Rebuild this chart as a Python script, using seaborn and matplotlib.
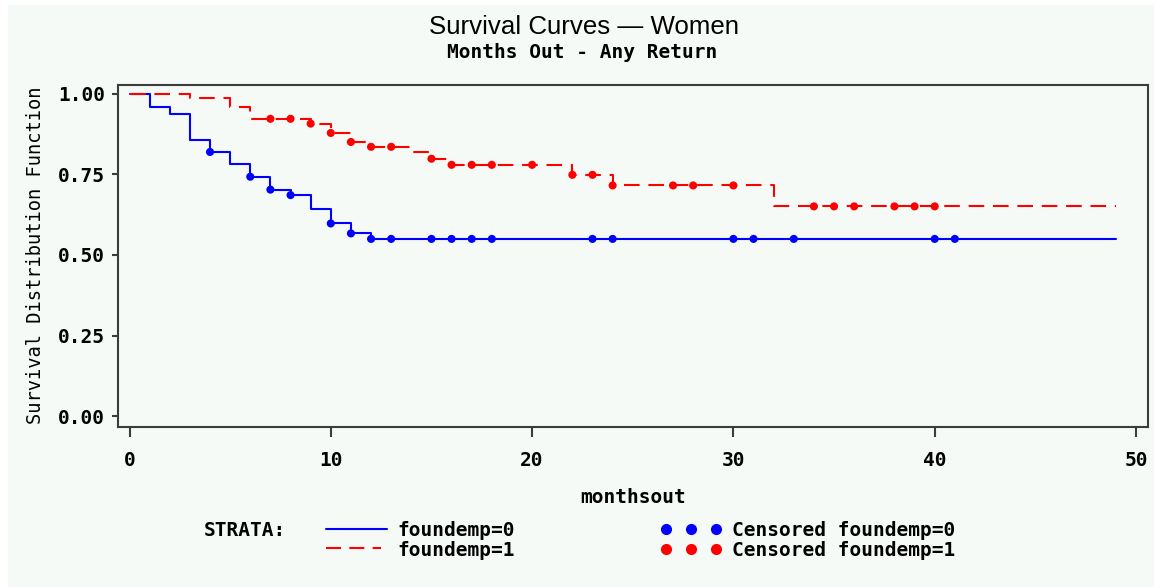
import matplotlib
matplotlib.use("Agg")
import matplotlib.pyplot as plt
import seaborn as sns
import pandas as pd
from matplotlib.lines import Line2D
from matplotlib.patches import Rectangle

# ---------------- data ----------------
strata_labels = ["foundemp=0", "foundemp=1"]
censor_labels = ["Censored foundemp=0", "Censored foundemp=1"]

months_0 = [0, 1, 2, 3, 4, 5, 6, 7, 8, 9, 10, 11, 12, 49]
surv_0 = [1.000, 0.960, 0.938, 0.856, 0.820, 0.783, 0.743, 0.703, 0.686,
          0.643, 0.598, 0.567, 0.550, 0.550]

months_1 = [0, 3, 5, 6, 9, 10, 11, 12, 14, 15, 16, 22, 24, 32, 49]
surv_1 = [1.000, 0.988, 0.960, 0.923, 0.908, 0.879, 0.851, 0.836, 0.820,
          0.799, 0.780, 0.749, 0.716, 0.651, 0.651]

cens_months_0 = [4, 6, 7, 8, 10, 11, 12, 13, 15, 16, 17, 18, 23, 24, 30, 31, 33, 40, 41]
cens_surv_0 = [0.820, 0.743, 0.703, 0.686, 0.598, 0.567, 0.550, 0.550, 0.550, 0.550,
               0.550, 0.550, 0.550, 0.550, 0.550, 0.550, 0.550, 0.550, 0.550]

cens_months_1 = [7, 8, 9, 10, 11, 12, 13, 15, 16, 17, 18, 20, 22, 23, 24, 27, 28, 30,
                 34, 35, 36, 38, 39, 40]
cens_surv_1 = [0.923, 0.923, 0.908, 0.879, 0.851, 0.836, 0.836, 0.799, 0.780, 0.780,
               0.780, 0.780, 0.749, 0.749, 0.716, 0.716, 0.716, 0.716,
               0.651, 0.651, 0.651, 0.651, 0.651, 0.651]

xticks = [0, 10, 20, 30, 40, 50]
yticks = [0.0, 0.25, 0.50, 0.75, 1.0]
ytick_labels = ["0.00", "0.25", "0.50", "0.75", "1.00"]

title = "Survival Curves \u2014 Women"
subtitle = "Months Out - Any Return"
xlabel = "monthsout"
ylabel = "Survival Distribution Function"

# ---------------- style ----------------
BG = "#F5FAF7"
BLUE = "#0000FF"
RED = "#FF0000"
SPINE = "#3C3C3C"
MONO = "DejaVu Sans Mono"
FS = 14

sns.set_style("white")
plt.rcParams["font.family"] = [MONO, "DejaVu Sans"]

curves = pd.concat([
    pd.DataFrame({"months": months_0, "surv": surv_0, "strata": strata_labels[0]}),
    pd.DataFrame({"months": months_1, "surv": surv_1, "strata": strata_labels[1]}),
], ignore_index=True)
censored = pd.concat([
    pd.DataFrame({"months": cens_months_0, "surv": cens_surv_0, "strata": strata_labels[0]}),
    pd.DataFrame({"months": cens_months_1, "surv": cens_surv_1, "strata": strata_labels[1]}),
], ignore_index=True)

W, H = 1154, 587
fig = plt.figure(figsize=(W / 100, H / 100), dpi=100, facecolor="white")
fig.add_artist(Rectangle((8 / W, 0), 1, 1 - 5 / H, transform=fig.transFigure,
                         facecolor=BG, edgecolor="none", zorder=-10))


def fx(px):
    return px / W


def fy(py):
    return 1 - py / H


ax_left, ax_right, ax_top, ax_bottom = 118, 1148, 84.7, 426.5
ax = fig.add_axes([fx(ax_left), fy(ax_bottom), (ax_right - ax_left) / W,
                   (ax_bottom - ax_top) / H])
ax.set_facecolor(BG)

palette = {strata_labels[0]: BLUE, strata_labels[1]: RED}
sns.lineplot(data=curves, x="months", y="surv", hue="strata", style="strata",
             palette=palette, dashes={strata_labels[0]: "", strata_labels[1]: (7.5, 4.2)},
             drawstyle="steps-post", estimator=None, sort=False, linewidth=1.5,
             legend=False, ax=ax)
sns.scatterplot(data=censored, x="months", y="surv", hue="strata", palette=palette,
                s=34, marker="o", linewidth=0, legend=False, ax=ax, zorder=3)

# x: 0 at px 129.5, 20.13 px per unit; y: 1 at px 94, 0 at px 416
ax.set_xlim((ax_left - 129.5) / 20.13, (ax_right - 129.5) / 20.13)
ax.set_ylim((416 - ax_bottom) / 322, (416 - ax_top) / 322)
ax.set_xticks(xticks)
ax.set_xticklabels([str(v) for v in xticks])
ax.set_yticks(yticks)
ax.set_yticklabels(ytick_labels)
ax.grid(False)

for s in ax.spines.values():
    s.set_visible(True)
    s.set_color(SPINE)
    s.set_linewidth(1.5)

ax.tick_params(axis="x", direction="out", length=7, width=1.5, pad=10.5,
               labelsize=FS, color=SPINE, labelcolor="black", bottom=True)
ax.tick_params(axis="y", direction="out", length=4.5, width=1.5, pad=5,
               labelsize=FS, color=SPINE, labelcolor="black", left=True)
for lab in ax.get_xticklabels() + ax.get_yticklabels():
    lab.set_fontweight("bold")
    lab.set_family(MONO)

ax.set_xlabel(xlabel, fontsize=FS, fontweight="bold", family=MONO, color="black")
ax.xaxis.set_label_coords(0.5, (ax_bottom - 488) / (ax_bottom - ax_top))
ax.set_ylabel(ylabel, fontsize=13.5, fontweight="normal", family=MONO, color="black")
ax.yaxis.set_label_coords((45 - ax_left) / (ax_right - ax_left), 0.5)

# titles
fig.text(fx(584), fy(27), title, ha="center", va="center", fontsize=18.6,
         family=["Liberation Sans", "DejaVu Sans"], color="black")
fig.text(fx(582), fy(53), subtitle, ha="center", va="center", fontsize=FS,
         fontweight="bold", family=MONO, color="black")

# legend (drawn in figure pixels)
txt_kw = dict(ha="left", va="center", fontsize=FS, fontweight="bold", family=MONO,
              color="black")
fig.text(fx(204), fy(531), "STRATA:", **txt_kw)
fig.add_artist(Line2D([fx(326), fx(387)], [fy(529), fy(529)], color=BLUE, lw=1.5,
                      transform=fig.transFigure))
fig.add_artist(Line2D([fx(326), fx(381)], [fy(548), fy(548)], color=RED, lw=1.5,
                      dashes=(7.2, 4.0), transform=fig.transFigure))
fig.text(fx(397), fy(531), strata_labels[0], **txt_kw)
fig.text(fx(397), fy(550), strata_labels[1], **txt_kw)
fig.add_artist(Line2D([fx(666), fx(691), fx(716)], [fy(529)] * 3, color=BLUE, ls="none",
                      marker="o", ms=8, mew=0, transform=fig.transFigure))
fig.add_artist(Line2D([fx(666), fx(691), fx(716)], [fy(549)] * 3, color=RED, ls="none",
                      marker="o", ms=8, mew=0, transform=fig.transFigure))
fig.text(fx(732), fy(531), censor_labels[0], **txt_kw)
fig.text(fx(732), fy(550), censor_labels[1], **txt_kw)

fig.savefig("out.png", dpi=100, facecolor="white")
